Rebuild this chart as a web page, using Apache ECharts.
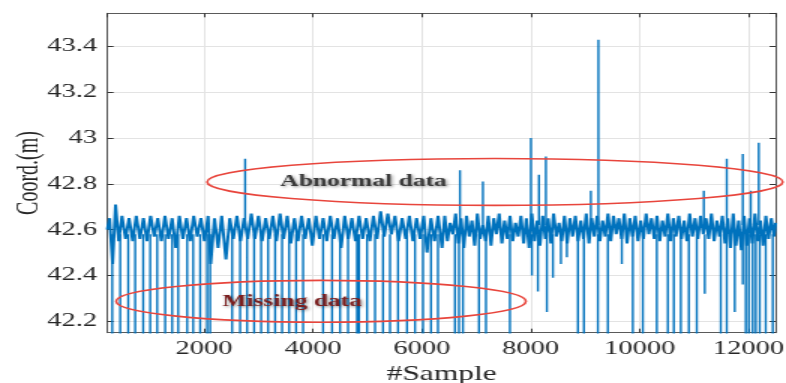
<!DOCTYPE html>
<html><head><meta charset="utf-8">
<script src="https://cdn.jsdelivr.net/npm/echarts@6/dist/echarts.min.js"></script>
<style>
html,body{margin:0;padding:0;background:#fff;overflow:hidden;width:786px;height:383px}
#chart{width:524px;height:383px;transform:scaleX(1.5);transform-origin:0 0;}
</style>
</head><body><div id="chart"></div>
<script>
// ---- data ----
const xMin = 225, xMax = 12500;
const yMin = 42.15, yMax = 43.545;

const baseX = [
 220, 262, 318, 372, 430, 490, 556, 620, 688, 752,
 820, 884, 950, 1016, 1082, 1148, 1214, 1280, 1346, 1412,
 1478, 1544, 1610, 1676, 1742, 1808, 1874, 1940, 2006, 2072,
 2120, 2190, 2256, 2322, 2400, 2470, 2536, 2602, 2668, 2734,
 2800, 2866, 2932, 2998, 3064, 3130, 3196, 3262, 3328, 3394,
 3460, 3526, 3592, 3658, 3724, 3790, 3856, 3922, 3988, 4054,
 4120, 4186, 4252, 4318, 4384, 4450, 4516, 4582, 4648, 4714,
 4780, 4846, 4912, 4978, 5044, 5110, 5176, 5242, 5308, 5374,
 5440, 5506, 5572, 5638, 5704, 5770, 5836, 5902, 5968, 6034,
 6094, 6166, 6232, 6298, 6370, 6420, 6470, 6520, 6570, 6620,
 6670, 6720, 6770, 6820, 6870, 6920, 6970, 7020, 7070, 7120,
 7170, 7220, 7270, 7320, 7370, 7420, 7470, 7520, 7570, 7620,
 7670, 7720, 7770, 7820, 7870, 7920, 7970, 8020, 8070, 8120,
 8170, 8220, 8270, 8320, 8370, 8420, 8470, 8520, 8570, 8620,
 8670, 8720, 8770, 8820, 8870, 8920, 8970, 9020, 9070, 9120,
 9170, 9220, 9270, 9320, 9370, 9420, 9470, 9520, 9570, 9620,
 9670, 9720, 9770, 9820, 9870, 9920, 9970, 10020, 10070, 10120,
 10170, 10220, 10270, 10320, 10370, 10420, 10470, 10520, 10570, 10620,
 10670, 10720, 10770, 10820, 10870, 10920, 10970, 11020, 11070, 11120,
 11170, 11220, 11270, 11320, 11370, 11420, 11470, 11520, 11570, 11620,
 11670, 11720, 11770, 11820, 11870, 11920, 11970, 12020, 12070, 12120,
 12170, 12220, 12270, 12320, 12370, 12420, 12470, 12500
];
const baseY = [
 42.60,42.65,42.45,42.71,42.55,42.66,42.56,42.65,42.55,42.66,
 42.56,42.65,42.55,42.66,42.57,42.65,42.55,42.66,42.56,42.65,
 42.52,42.66,42.56,42.65,42.55,42.66,42.57,42.65,42.55,42.66,
 42.45,42.65,42.52,42.66,42.47,42.65,42.56,42.66,42.55,42.65,
 42.56,42.67,42.56,42.66,42.55,42.65,42.56,42.66,42.55,42.67,
 42.56,42.66,42.54,42.65,42.55,42.66,42.56,42.65,42.53,42.66,
 42.56,42.65,42.55,42.66,42.56,42.65,42.52,42.66,42.56,42.65,
 42.55,42.66,42.56,42.65,42.55,42.66,42.56,42.68,42.57,42.67,
 42.58,42.66,42.55,42.65,42.56,42.66,42.55,42.65,42.56,42.66,
 42.50,42.65,42.55,42.66,42.52,42.66,42.55,42.63,42.58,42.67,
 42.54,42.65,42.52,42.66,42.57,42.64,42.53,42.67,42.56,42.62,
 42.55,42.66,42.53,42.65,42.58,42.67,42.54,42.64,42.56,42.66,
 42.55,42.63,42.57,42.66,42.54,42.65,42.52,42.67,42.55,42.64,
 42.53,42.66,42.56,42.65,42.54,42.67,42.57,42.63,42.55,42.66,
 42.54,42.65,42.57,42.66,42.55,42.64,42.56,42.67,42.54,42.65,
 42.57,42.66,42.55,42.64,42.57,42.67,42.55,42.66,42.58,42.65,
 42.56,42.67,42.54,42.65,42.57,42.66,42.55,42.64,42.56,42.67,
 42.58,42.65,42.56,42.66,42.55,42.64,42.57,42.67,42.55,42.65,
 42.57,42.66,42.56,42.64,42.55,42.67,42.57,42.65,42.56,42.66,
 42.58,42.65,42.56,42.67,42.55,42.64,42.57,42.66,42.54,42.65,
 42.52,42.67,42.53,42.64,42.51,42.66,42.53,42.65,42.54,42.67,
 42.55,42.64,42.53,42.66,42.56,42.65,42.57,42.63
];

// missing data: samples whose value drops to zero
const dropX = [311, 458, 605, 733, 880, 1009, 1137, 1284, 1412, 1523,
 1688, 1798, 1927, 2055, 2110, 2514, 2661, 2789, 2918, 3047,
 3175, 3304, 3432, 3561, 3689, 3818, 4185, 4350, 4497, 4644,
 4809, 4846, 4993, 5140, 5286, 5415, 5562, 5727, 5874, 6021,
 6168, 6296, 6608, 6682, 6755, 7049, 7178, 7618, 8867, 8977,
 9234, 9417, 9876, 10060, 10317, 10519, 10629, 10758, 10905, 11051,
 11492, 11602, 11951, 12006, 12079, 12135, 12208, 12318, 12447];
const dropFrom = 42.58;
const missingValue = 0;

// partial downward outliers
const dipX = [8022, 8132, 8297, 8408, 8555, 8665, 9674, 11198, 11749, 11896];
const dipLow = [42.40, 42.33, 42.24, 42.39, 42.45, 42.48, 42.45, 42.32, 42.24, 42.36];

// abnormal upward spikes
const spikeX = [2753, 6700, 7122, 8004, 8151, 8279, 9105, 9243, 11180, 11602, 11896, 12043, 12190];
const spikeTop = [42.91, 42.86, 42.81, 43.00, 42.84, 42.92, 42.77, 43.43, 42.77, 42.91, 42.93, 42.77, 42.98];
const spikeFrom = 42.62;

// ---- build series data ----
const baseData = baseX.map((x, i) => [x, baseY[i]]);
const eventData = [];
dropX.forEach(x => { eventData.push([x, dropFrom], [x, missingValue], [x, '-']); });
dipX.forEach((x, i) => { eventData.push([x, dropFrom], [x, dipLow[i]], [x, '-']); });
spikeX.forEach((x, i) => { eventData.push([x, spikeFrom], [x, spikeTop[i]], [x, '-']); });

const FONT = '"Liberation Serif", "Times New Roman", serif';
const BLUE = '#0072BD';
const AX = '#5a5a5a';

const chart = echarts.init(document.getElementById('chart'));
const boxAxis = (pos, isX) => ({
  type: 'value', min: isX ? xMin : yMin, max: isX ? xMax : yMax,
  splitNumber: isX ? 6 : 7, position: pos,
  axisLine: {show: true, onZero: false, lineStyle: {color: AX, width: 1}},
  axisTick: {show: true, inside: true, length: 4, lineStyle: {color: '#333'}},
  axisLabel: {show: false},
  splitLine: {show: false}
});
chart.setOption({
  animation: false,
  grid: {left: 71.7, right: 6.9, top: 13.3, bottom: 50.3, containLabel: false, outerBoundsMode: 'none'},
  xAxis: [{
    type: 'value', min: xMin, max: xMax, splitNumber: 6, position: 'bottom',
    axisLine: {show: true, onZero: false, lineStyle: {color: AX, width: 1}},
    axisTick: {show: true, inside: true, length: 4, lineStyle: {color: '#333'}},
    axisLabel: {fontFamily: FONT, fontSize: 19, color: '#262626', margin: 7,
      showMinLabel: false, showMaxLabel: false, formatter: v => String(v)},
    splitLine: {show: true, lineStyle: {color: '#e3e3e3', width: 1}},
    name: '#Sample', nameLocation: 'middle', nameGap: 22,
    nameTextStyle: {fontFamily: FONT, fontSize: 21, color: '#262626'}
  }, boxAxis('top', true)],
  yAxis: [{
    type: 'value', min: yMin, max: yMax, splitNumber: 7, position: 'left',
    axisLine: {show: true, onZero: false, lineStyle: {color: AX, width: 1}},
    axisTick: {show: true, inside: true, length: 4, lineStyle: {color: '#333'}},
    axisLabel: {fontFamily: FONT, fontSize: 19, color: '#262626', margin: 7,
      showMinLabel: false, showMaxLabel: false, formatter: v => String(+v.toFixed(2))},
    splitLine: {show: true, lineStyle: {color: '#e3e3e3', width: 1}},
    name: 'Coord.(m)', nameLocation: 'middle', nameGap: 42, nameMoveOverlap: false,
    nameTextStyle: {fontFamily: FONT, fontSize: 20, color: '#262626'}
  }, boxAxis('right', false)],
  series: [{
    type: 'line', data: baseData, symbol: 'none', clip: true,
    lineStyle: {color: BLUE, width: 2}, z: 3
  }, {
    type: 'line', data: eventData, symbol: 'none', clip: true, connectNulls: false,
    lineStyle: {color: BLUE, width: 1.4}, z: 3
  }]
});

// ---- annotations anchored in data coordinates ----
function px(p) { return chart.convertToPixel({xAxisIndex: 0, yAxisIndex: 0}, p); }
function ellipse(cx, cy, rx, ry) {
  const c = px([cx, cy]), e = px([cx + rx, cy + ry]);
  return {type: 'ellipse', z: 100, silent: true,
    shape: {cx: c[0], cy: c[1], rx: Math.abs(e[0] - c[0]), ry: Math.abs(c[1] - e[1])},
    style: {fill: 'none', stroke: '#e8453c', lineWidth: 1.6}};
}
function label(x, y, text, color) {
  const c = px([x, y]);
  return {type: 'text', z: 101, silent: true, x: c[0], y: c[1],
    style: {text: text, fill: color, font: 'bold 17px ' + FONT,
      textAlign: 'center', textVerticalAlign: 'middle',
      textShadowColor: 'rgba(0,0,0,0.45)', textShadowBlur: 3, textShadowOffsetX: 1, textShadowOffsetY: 1}};
}
chart.setOption({graphic: [
  ellipse(7343, 42.8086, 5288, 0.1025),
  ellipse(4148, 42.287, 3764, 0.0916),
  label(4928, 42.811, 'Abnormal data', '#3a3a3a'),
  label(3616, 42.287, 'Missing data', '#7b1f1f')
]});
</script>
</body></html>
